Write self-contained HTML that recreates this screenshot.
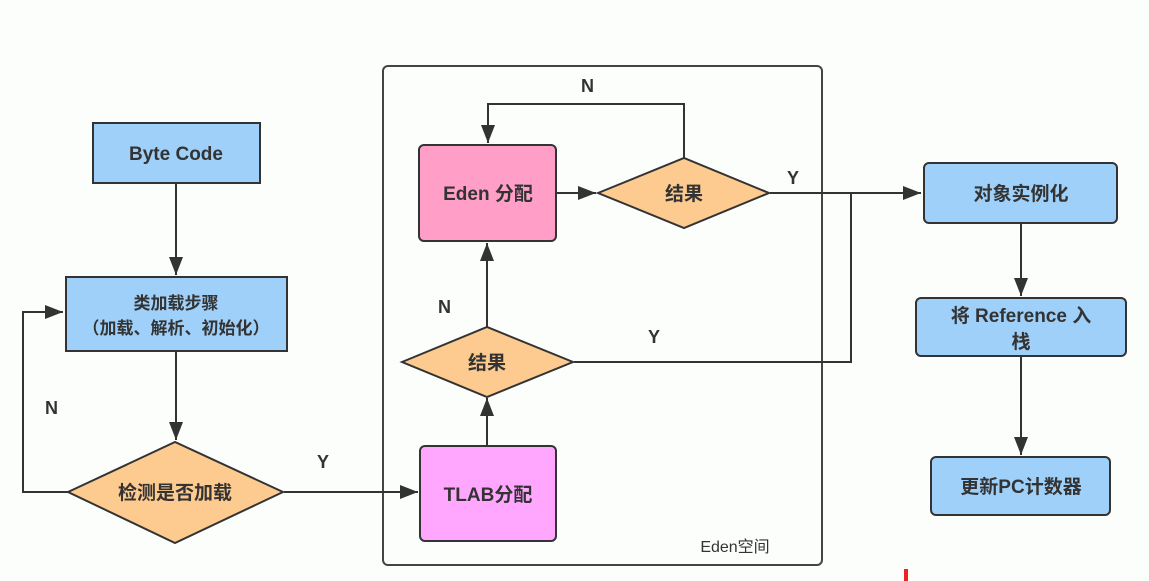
<!DOCTYPE html>
<html><head><meta charset="utf-8"><style>
html,body{margin:0;padding:0;background:#fcfefc;}
svg{display:block;}
text{font-family:"Liberation Sans","Noto Sans CJK SC",sans-serif;font-weight:bold;fill:#333;}
</style></head><body>
<svg width="1149" height="581" viewBox="0 0 1149 581" xmlns="http://www.w3.org/2000/svg">
<defs>
<marker id="b" markerWidth="20" markerHeight="14" refX="18" refY="7" orient="auto" markerUnits="userSpaceOnUse">
<path d="M0,0 L18,7 L0,14 z" fill="#333"/></marker>
</defs>
<rect width="1149" height="581" fill="#fcfefc"/>
<rect x="383" y="66" width="439" height="499" rx="5" fill="none" stroke="#444" stroke-width="2"/>
<text x="735" y="552" font-size="16" style="font-weight:normal" fill="#666" text-anchor="middle">Eden空间</text>
<g stroke="#333" stroke-width="2" fill="none">
<line x1="176" y1="184" x2="176" y2="275" marker-end="url(#b)"/>
<line x1="176" y1="352" x2="176" y2="440" marker-end="url(#b)"/>
<polyline points="68,492 23,492 23,312 63,312" marker-end="url(#b)"/>
<line x1="284" y1="492" x2="418" y2="492" marker-end="url(#b)"/>
<line x1="487" y1="446" x2="487" y2="398" marker-end="url(#b)"/>
<line x1="487" y1="327" x2="487" y2="243" marker-end="url(#b)"/>
<line x1="557" y1="193" x2="596" y2="193" marker-end="url(#b)"/>
<polyline points="684,158 684,104 488,104 488,143" marker-end="url(#b)"/>
<line x1="770" y1="193" x2="921" y2="193" marker-end="url(#b)"/>
<polyline points="574,362 851,362 851,193"/>
<line x1="1021" y1="224" x2="1021" y2="296" marker-end="url(#b)"/>
<line x1="1021" y1="357" x2="1021" y2="455" marker-end="url(#b)"/>
</g>
<g stroke="#333" stroke-width="2">
<rect x="93" y="123" width="167" height="60" fill="#9fd0fa"/>
<rect x="66" y="277" width="221" height="74" fill="#9fd0fa"/>
<polygon points="68,492 175,442 283,492 175,543" fill="#fdcb8f"/>
<rect x="419" y="145" width="137" height="96" rx="5" fill="#ff9fc8"/>
<polygon points="598,193 684,158 769,193 684,228" fill="#fdcb8f"/>
<polygon points="402,362 487,327 573,362 487,397" fill="#fdcb8f"/>
<rect x="420" y="446" width="136" height="95" rx="5" fill="#ffa6ff"/>
<rect x="924" y="163" width="193" height="60" rx="5" fill="#9fd0fa"/>
<rect x="916" y="298" width="210" height="58" rx="5" fill="#9fd0fa"/>
<rect x="931" y="457" width="179" height="58" rx="5" fill="#9fd0fa"/>
</g>
<g font-size="19" text-anchor="middle">
<text x="176" y="160">Byte Code</text>
<text x="176" y="309" font-size="17">类加载步骤</text>
<text x="176" y="334" font-size="17">（加载、解析、初始化）</text>
<text x="175" y="499">检测是否加载</text>
<text x="488" y="200">Eden 分配</text>
<text x="684" y="200">结果</text>
<text x="487" y="369">结果</text>
<text x="488" y="501">TLAB分配</text>
<text x="1021" y="200">对象实例化</text>
<text x="1021" y="322">将 Reference 入</text>
<text x="1021" y="348">栈</text>
<text x="1021" y="493">更新PC计数器</text>
</g>
<g font-size="18">
<text x="45" y="414">N</text>
<text x="317" y="468">Y</text>
<text x="581" y="92">N</text>
<text x="787" y="184">Y</text>
<text x="438" y="313">N</text>
<text x="648" y="343">Y</text>
</g>
<rect x="904" y="569" width="4" height="12" fill="#e22"/>
</svg>
</body></html>
